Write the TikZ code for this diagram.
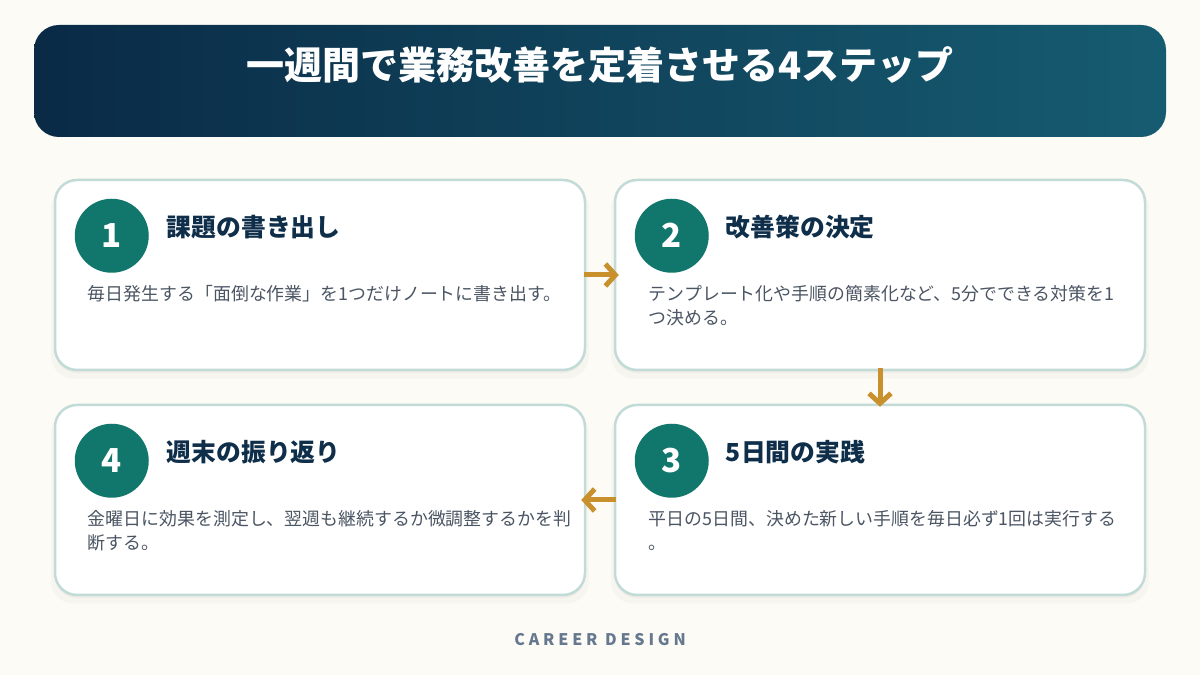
\documentclass[tikz,border=0pt]{standalone}
\usepackage{fontspec}
\setmainfont{Noto Sans CJK JP}
\usetikzlibrary{calc,shadows,arrows.meta}

\definecolor{bgcream}{HTML}{FCFBF6}
\definecolor{navyL}{HTML}{0A2A46}
\definecolor{tealR}{HTML}{165C71}
\definecolor{cardline}{HTML}{C3DBD7}
\definecolor{stepteal}{HTML}{11766B}
\definecolor{headnavy}{HTML}{0E2E4A}
\definecolor{bodygray}{HTML}{4B5563}
\definecolor{gold}{HTML}{C8912E}
\definecolor{footgray}{HTML}{66788F}

\tikzset{
	card/.style={draw=cardline,line width=2.5pt,fill=white,rounded corners=22pt,
		minimum width=530pt,minimum height=190pt,
		drop shadow={shadow xshift=0pt,shadow yshift=-7pt,shadow scale=1.015,opacity=0.025,fill=black},
		drop shadow={shadow xshift=0pt,shadow yshift=-3pt,opacity=0.035,fill=black}},
	num/.style={circle,fill=stepteal,minimum size=74pt,inner sep=0pt,text=white,
		font=\fontsize{33}{33}\selectfont\bfseries},
	head/.style={anchor=base west,inner sep=0pt,text=headnavy,
		font=\fontsize{24.8}{28}\selectfont\bfseries},
	body/.style={anchor=base west,inner sep=0pt,align=left,text=bodygray,
		font=\fontsize{17.9}{24}\selectfont},
	bodytwo/.style={body,yshift=-24pt},
	flow/.style={draw=gold,line width=5pt,-{Straight Barb[length=10pt,width=22pt]}}
}

\begin{document}
\begin{tikzpicture}[x=1pt,y=1pt]
	\useasboundingbox (0,0) rectangle (1200,675);
	\fill[bgcream] (0,0) rectangle (1200,675);

	%banner
	\node[rounded corners=25pt,left color=navyL,right color=tealR,
		minimum width=1132pt,minimum height=112pt] (banner) at (600,594) {};
	\node[anchor=base,text=white,font=\fontsize{38}{40}\selectfont\bfseries]
		(title) at ($(banner.north)+(0,-55)$) {一週間で業務改善を定着させる4ステップ};

	%cards
	\node[card] (c1) at (320,400) {};
	\node[card] (c2) at (880,400) {};
	\node[card] (c3) at (880,175) {};
	\node[card] (c4) at (320,175) {};

	%circles
	\node[num] (n1) at ($(c1.north west)+(58,-57)$) {1};
	\node[num] (n2) at ($(c2.north west)+(58,-57)$) {2};
	\node[num] (n3) at ($(c3.north west)+(58,-57)$) {3};
	\node[num] (n4) at ($(c4.north west)+(58,-57)$) {4};

	%headings
	\node[head] (h1) at ($(c1.north west)+(113,-58)$) {課題の書き出し};
	\node[head] (h2) at ($(c2.north west)+(112,-58)$) {改善策の決定};
	\node[head] (h3) at ($(c3.north west)+(112,-58)$) {5日間の実践};
	\node[head] (h4) at ($(c4.north west)+(113,-58)$) {週末の振り返り};

	%body texts
	\node[body] (b1) at ($(c1.north west)+(34,-122)$) {毎日発生する「面倒な作業」を1つだけノートに書き出す。};
	\node[bodytwo] (b2) at ($(c2.north west)+(35,-122)$) {テンプレート化や手順の簡素化など、5分でできる対策を1\\つ決める。};
	\node[bodytwo] (b3) at ($(c3.north west)+(35,-122)$) {平日の5日間、決めた新しい手順を毎日必ず1回は実行する\\。};
	\node[bodytwo] (b4) at ($(c4.north west)+(34,-122)$) {金曜日に効果を測定し、翌週も継続するか微調整するかを判\\断する。};

	%arrows
	\draw[flow] ([xshift=-2pt]c1.east) -- ([xshift=5pt]c2.west);
	\draw[flow] ([yshift=3pt]c2.south) -- ([yshift=-3pt]c3.north);
	\draw[flow] ([xshift=2pt]c3.west) -- ([xshift=-5pt]c4.east);

	%footer
	\node[anchor=base,text=footgray,
		font=\addfontfeatures{LetterSpace=24}\fontsize{16}{18}\selectfont\bfseries]
		(foot) at (600,30) {CAREER DESIGN};
\end{tikzpicture}
\end{document}
